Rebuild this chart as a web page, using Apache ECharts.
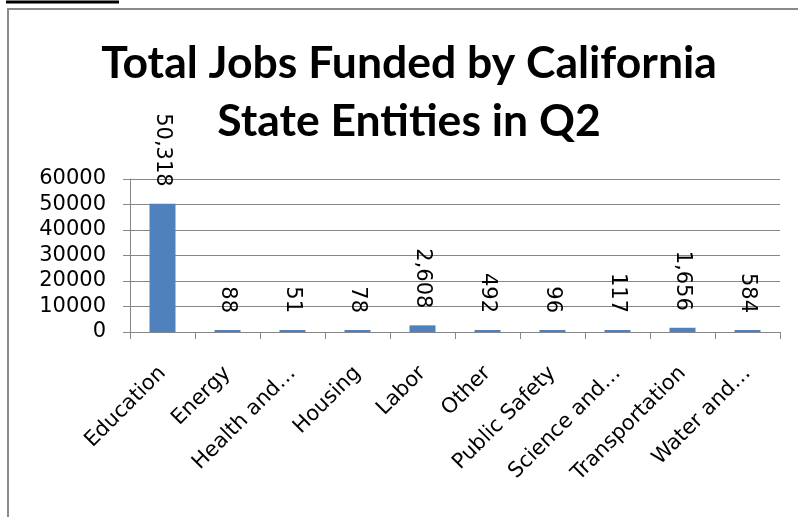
<!DOCTYPE html>
<html>
<head>
<meta charset="utf-8">
<style>
html,body{margin:0;padding:0;background:#fff;}
#chart{width:798px;height:517px;}
</style>
<script src="https://cdn.jsdelivr.net/npm/echarts@6/dist/echarts.min.js"></script>
</head>
<body>
<div id="chart"></div>
<script>
const categories = ['Education','Energy','Health and…','Housing','Labor','Other','Public Safety','Science and…','Transportation','Water and…'];
const jobs = [50318, 88, 51, 78, 2608, 492, 96, 117, 1656, 584];
const yTicks = { min: 0, max: 60000, interval: 10000 };
const titleText = 'Total Jobs Funded by California\nState Entities in Q2';

const chart = echarts.init(document.getElementById('chart'));
chart.setOption({
  backgroundColor: '#ffffff',
  animation: false,
  title: {
    text: titleText,
    left: 409,
    top: 35,
    textAlign: 'center',
    padding: 0,
    textStyle: {
      fontFamily: 'Lato',
      fontWeight: 'bold',
      fontSize: 44.5,
      lineHeight: 58,
      color: '#000'
    }
  },
  grid: { left: 130, right: 18, top: 179, bottom: 185, containLabel: false },
  xAxis: {
    type: 'category',
    data: categories,
    axisLine: { lineStyle: { color: '#868686', width: 1 } },
    axisTick: { show: true, length: 7, lineStyle: { color: '#868686' } },
    axisLabel: {
      rotate: 45,
      interval: 0,
      margin: 38,
      color: '#000',
      fontFamily: 'DejaVu Sans',
      fontSize: 21
    }
  },
  yAxis: {
    type: 'value',
    min: yTicks.min,
    max: yTicks.max,
    interval: yTicks.interval,
    axisLine: { show: true, lineStyle: { color: '#868686', width: 1 } },
    axisTick: { show: true, length: 7, lineStyle: { color: '#868686' } },
    splitLine: { show: true, lineStyle: { color: '#868686', width: 1 } },
    axisLabel: {
      margin: 24,
      color: '#000',
      fontFamily: 'DejaVu Sans',
      fontSize: 21,
      formatter: v => String(v)
    }
  },
  series: [{
    type: 'bar',
    data: jobs,
    barWidth: '40%',
    barMinHeight: 2,
    itemStyle: { color: '#4F81BD' },
    label: {
      show: true,
      position: 'top',
      rotate: -90,
      align: 'right',
      verticalAlign: 'middle',
      distance: 17,
      color: '#000',
      fontFamily: 'DejaVu Sans',
      fontSize: 21,
      formatter: p => p.value.toLocaleString('en-US')
    }
  }],
  graphic: [
    { type: 'rect', shape: { x: 8, y: 9, width: 800, height: 520 }, style: { fill: 'none', stroke: '#8a8a8a', lineWidth: 2 }, silent: true },
    { type: 'line', shape: { x1: 6, y1: 2, x2: 119, y2: 2 }, style: { stroke: '#000', lineWidth: 3 }, silent: true }
  ]
});
</script>
</body>
</html>
